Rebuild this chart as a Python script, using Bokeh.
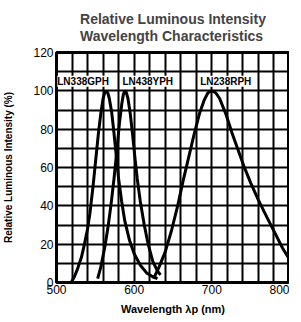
from bokeh.plotting import figure
from bokeh.models import ColumnDataSource, LabelSet, Title, FixedTicker
from bokeh.core.properties import value
from bokeh.embed import file_html
from bokeh.resources import INLINE

# Data
green_nm = [519, 523, 527, 532, 536, 540, 543, 547, 551, 554, 557, 560, 562, 564, 566, 568, 571, 574, 577, 580, 584, 588, 594, 600, 608, 616, 624, 630]
green_pct = [0, 3, 7, 13, 20, 28, 36, 50, 66, 78, 88, 96, 99, 100, 99, 96, 89, 78, 66, 54, 42, 32, 22, 15, 9, 5, 3, 2]

yellow_nm = [553, 557, 562, 566, 570, 574, 578, 581, 584, 586, 588, 590, 592, 595, 598, 601, 604, 608, 613, 618, 624, 630, 634]
yellow_pct = [2, 8, 18, 28, 40, 54, 70, 83, 93, 98, 100, 99, 96, 88, 77, 65, 54, 42, 30, 20, 11, 6, 4]

red_nm = [625, 632, 640, 648, 656, 663, 670, 677, 684, 690, 695, 700, 705, 710, 718, 726, 733, 741, 750, 760, 771, 781, 791, 800]
red_pct = [2, 8, 16, 27, 40, 53, 65, 77, 88, 95, 99, 100, 99, 96, 88, 78, 70, 61, 52, 43, 34, 26, 18, 12]

label_names = ["LN338GPH", "LN438YPH", "LN238RPH"]
label_nm = [501, 585, 685]
label_pct = [105, 105, 105]

title_lines = ["Relative Luminous Intensity", "Wavelength Characteristics"]

x_ticks = [500, 600, 700, 800]
y_ticks = [0, 20, 40, 60, 80, 100, 120]
x_grid = list(range(500, 801, 20))
y_grid = list(range(0, 121, 10))

p = figure(frame_width=233, frame_height=230, x_range=(500, 800), y_range=(0, 120),
           output_backend="svg", toolbar_location=None,
           min_border_left=0, min_border_right=0, min_border_top=0, min_border_bottom=0)

p.add_layout(Title(text="\n".join(title_lines), align="center",
                   text_font="Liberation Sans", text_font_size="14px",
                   text_font_style="bold", text_line_height=1.05,
                   standoff=17, offset=0), "above")

p.outline_line_color = "black"
p.outline_line_width = 3
p.outline_line_alpha = 1

for ax in (p.xaxis, p.yaxis):
    ax.axis_line_color = None
    ax.major_tick_line_color = None
    ax.minor_tick_line_color = None
    ax.major_tick_out = 0
    ax.major_tick_in = 0
    ax.minor_tick_out = 0
    ax.minor_tick_in = 0
    ax.major_label_text_font = "Liberation Sans"
    ax.major_label_text_font_size = "12px"
    ax.major_label_text_color = "black"
    ax.axis_label_text_font = "Liberation Sans"
    ax.axis_label_text_font_style = "bold"
    ax.axis_label_text_color = "black"

p.xaxis.ticker = FixedTicker(ticks=x_ticks)
p.yaxis.ticker = FixedTicker(ticks=y_ticks)
p.xaxis.major_label_standoff = 2
p.yaxis.major_label_standoff = 3
p.xaxis.axis_label = "Wavelength λp (nm)"
p.xaxis.axis_label_text_font_size = "11px"
p.xaxis.axis_label_standoff = 6
p.yaxis.axis_label = "Relative Luminous Intensity (%)"
p.yaxis.axis_label_text_font_size = "10px"
p.yaxis.axis_label_standoff = 16

p.xgrid.ticker = FixedTicker(ticks=x_grid)
p.ygrid.ticker = FixedTicker(ticks=y_grid)
for g in (p.xgrid, p.ygrid):
    g.grid_line_color = "black"
    g.grid_line_width = 2
    g.grid_line_alpha = 1

p.line(green_nm, green_pct, line_color="black", line_width=3)
p.line(yellow_nm, yellow_pct, line_color="black", line_width=3)
p.line(red_nm, red_pct, line_color="black", line_width=3)

src = ColumnDataSource(dict(x=label_nm, y=label_pct, t=label_names))
p.add_layout(LabelSet(x="x", y="y", text="t", source=src, text_font=value("Liberation Sans"),
                      text_font_size="10px", text_font_style="bold", text_color="black",
                      text_baseline="middle", text_align="left",
                      background_fill_color="white", background_fill_alpha=1))

open("out.html", "w").write(file_html(p, INLINE))
